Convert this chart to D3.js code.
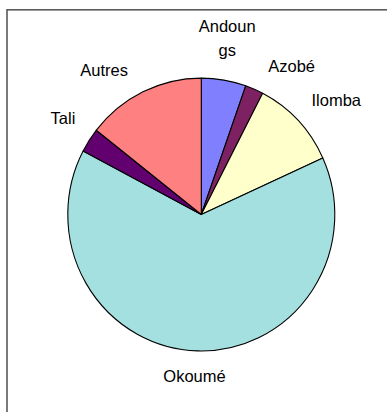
<!DOCTYPE html>
<html>
<head>
<meta charset="utf-8">
<script src="https://cdn.jsdelivr.net/npm/d3@7/dist/d3.min.js"></script>
<style>
  html, body { margin: 0; padding: 0; background: #fff; }
  svg { display: block; }
  text { font-family: "Liberation Sans", Arial, sans-serif; fill: #000; }
</style>
</head>
<body>
<svg id="chart" width="387" height="412"></svg>
<script>
// Wood species share (%)
const categories = ["Andoungs", "Azobé", "Ilomba", "Okoumé", "Tali", "Autres"];
const labelLines = [["Andoun", "gs"], ["Azobé"], ["Ilomba"], ["Okoumé"], ["Tali"], ["Autres"]];
const shares = [5.4, 2.2, 10.6, 64.5, 2.9, 14.4];
const sliceColors = ["#8080FF", "#7E2162", "#FFFFCC", "#A4E0E0", "#620070", "#FF8080"];

const width = 387, height = 412;
const cx = 201.3, cy = 214.5;
const radius = 133.5;
const yStretch = 1.022;
const fontSize = 16.5;
const ascent = fontSize * 0.72;
const lineGap = 24.6;
const boxLine = 23;      // label box height for one line
const boxExtra = 18;     // added box height per extra line
const labelGap = 19;
// small angular nudges (degrees) that keep neighbouring labels apart
const labelNudge = { "Andoungs": -1.5, "Azobé": 7.5, "Ilomba": 3, "Okoumé": 0.5, "Tali": 0, "Autres": -7.5 };

const svg = d3.select("#chart");

// chart frame
svg.append("rect")
  .attr("x", 7).attr("y", 9.8)
  .attr("width", width + 20).attr("height", height + 20)
  .attr("fill", "none")
  .attr("stroke", "#5a5a5a")
  .attr("stroke-width", 1.6);

const data = categories.map((c, i) => ({ name: c, value: shares[i], lines: labelLines[i], color: sliceColors[i] }));

const pie = d3.pie().sort(null).value(d => d.value);
const arcs = pie(data);
const arc = d3.arc().innerRadius(0).outerRadius(radius);

const g = svg.append("g")
  .attr("transform", `translate(${cx},${cy}) scale(1,${yStretch})`);

g.selectAll("path.slice")
  .data(arcs)
  .join("path")
  .attr("class", "slice")
  .attr("d", arc)
  .attr("fill", d => d.data.color)
  .attr("stroke", "#000")
  .attr("stroke-width", 1.1)
  .attr("stroke-linejoin", "round");

// labels sit outside the rim, their box pushed away along the slice's mid-angle
const labels = svg.append("g");
arcs.forEach(a => {
  const mid = (a.startAngle + a.endAngle) / 2 + ((labelNudge[a.data.name] || 0) * Math.PI / 180);
  const sx = Math.sin(mid), sy = -Math.cos(mid);
  const t = labels.append("text")
    .attr("font-size", fontSize)
    .attr("text-anchor", "middle");
  a.data.lines.forEach((ln, i) => {
    t.append("tspan").attr("x", 0).attr("y", i * lineGap).text(ln);
  });
  const bb = t.node().getBBox();
  const hw = bb.width / 2;
  const hh = (boxLine + (a.data.lines.length - 1) * boxExtra) / 2;
  const rimX = cx + sx * (radius + labelGap);
  const rimY = cy + sy * (radius * yStretch + labelGap);
  const boxCx = rimX + sx * hw;
  const boxCy = rimY + sy * hh;
  // baseline of the first line
  const firstBaseline = boxCy - hh + ascent;
  t.attr("transform", `translate(${boxCx},${firstBaseline})`);
});
</script>
</body>
</html>
